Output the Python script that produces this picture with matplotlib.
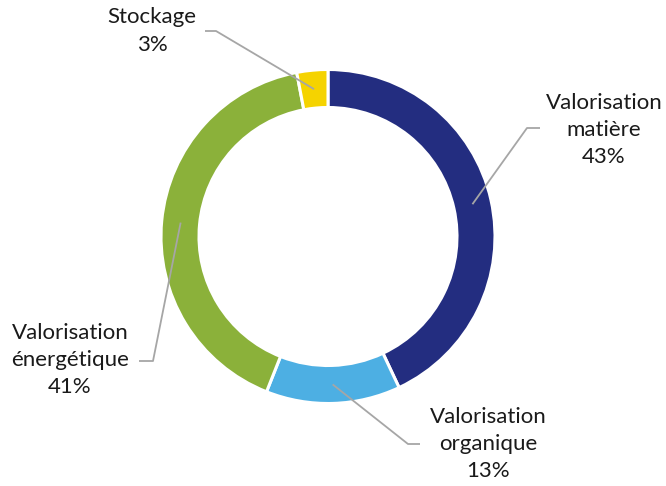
import numpy as np
import matplotlib
matplotlib.use("Agg")
import matplotlib.pyplot as plt

labels = ["Valorisation\nmatière", "Valorisation\norganique", "Valorisation\nénergétique", "Stockage"]
shares = [43, 13, 41, 3]
colors = ["#232D80", "#4DAFE3", "#8BB13A", "#F5D300"]

# label block centres and the end of the short horizontal stub (pixels, y down)
label_pos = [(604, 130), (488, 444), (70, 360), (152, 31)]
stub = [((540, 128), (527, 128)), ((420, 444), (408, 444)),
        ((139, 361), (153, 361)), ((205, 31), (216, 31))]

W, H = 666, 486
fig = plt.figure(figsize=(W / 100, H / 100), dpi=100)
ax = fig.add_axes([0, 0, 1, 1])

cx, cy = 328, H - 236.5
r_out, width = 167, 38

wedges, _ = ax.pie(shares, colors=colors, startangle=90, counterclock=False,
                   center=(cx, cy), radius=r_out, frame=True,
                   wedgeprops=dict(width=width, edgecolor="white", linewidth=2.2))
ax.set_xlim(0, W)
ax.set_ylim(0, H)
ax.set_aspect("equal")
ax.axis("off")

r_mid = r_out - width / 2
for w, lab, val, (tx, ty), (p0, p1) in zip(wedges, labels, shares, label_pos, stub):
    ang = np.deg2rad((w.theta1 + w.theta2) / 2)
    axp = cx + r_mid * np.cos(ang)
    ayp = cy + r_mid * np.sin(ang)
    ax.plot([p0[0], p1[0], axp], [H - p0[1], H - p1[1], ayp],
            color="#A6A6A6", lw=1.3, solid_capstyle="butt")
    ax.text(tx, H - ty, f"{lab}\n{val}%", ha="center", va="center",
            fontsize=16, family="Lato", color="#1A1A1A", linespacing=1.45)

fig.savefig("out.png", dpi=100)
